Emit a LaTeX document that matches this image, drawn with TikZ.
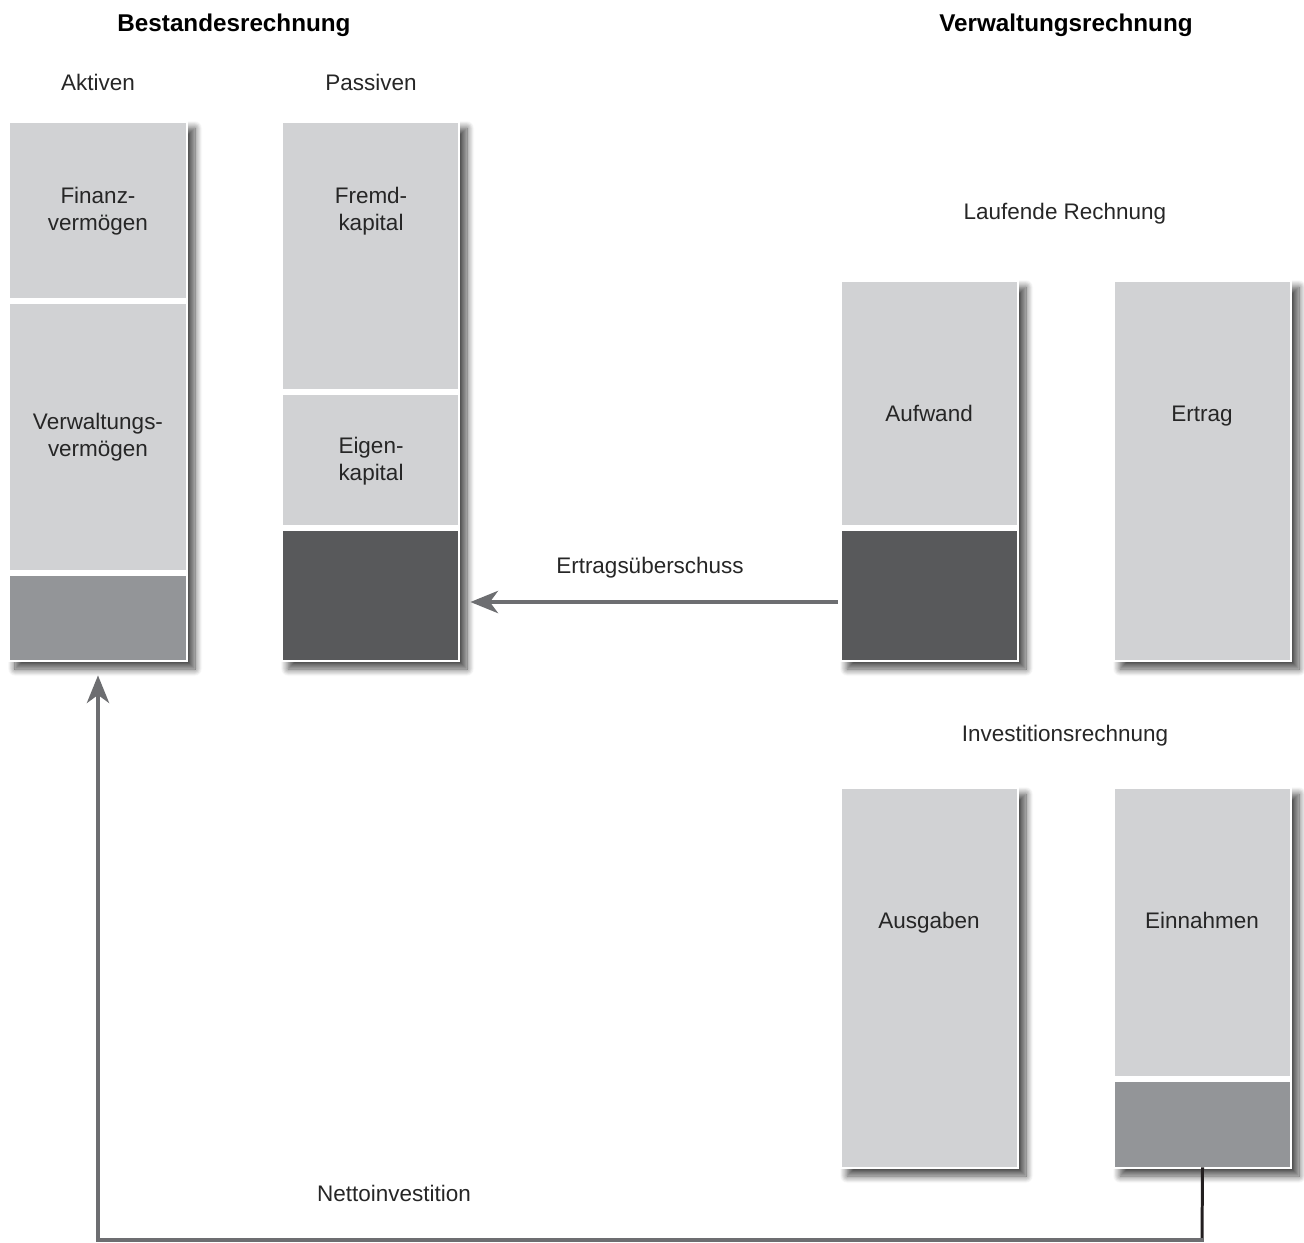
\documentclass[tikz,border=0pt]{standalone}
\usepackage{fontspec}
\setmainfont{Liberation Sans}
\usetikzlibrary{arrows.meta,fit,shadows.blur}
\definecolor{boxlight}{HTML}{D1D2D4}
\definecolor{boxdark}{HTML}{58595B}
\definecolor{boxmid}{HTML}{939598}
\definecolor{arrgray}{HTML}{6D6E71}
\definecolor{linedark}{HTML}{231F20}
\tikzset{
  frame/.style={fill=white,inner sep=0pt,blur shadow={shadow xshift=0.14cm,shadow yshift=-0.14cm,shadow blur radius=0.14cm,shadow blur steps=10,shadow opacity=70}},
  seg/.style={inner sep=0pt},
  txt/.style={align=center,font=\fontsize{12.8}{15.5}\selectfont,text=black!85},
  lbl/.style={txt,text height=0.9em,text depth=0.2em},
  ttl/.style={font=\fontsize{13.8}{16}\selectfont\bfseries},
  flow/.style={line width=2.8pt,arrgray,-{Stealth[length=5.5mm,width=4.4mm,inset=1.6mm]}}
}

\begin{document}
\begin{tikzpicture}[x=0.02cm,y=-0.02cm]
\useasboundingbox (0,0) rectangle (1304,1242);
% headings
\node[ttl] (tBest) at (234,25) {Bestandesrechnung};
\node[ttl] (tVerw) at (1066,25) {Verwaltungsrechnung};
\node[lbl] (hAkt) at (98,84) {Aktiven};
\node[lbl] (hPas) at (371,84) {Passiven};
\node[lbl] (hLfd) at (1065,213) {Laufende Rechnung};
\node[lbl] (hInv) at (1065,735) {Investitionsrechnung};
% frames with shadow
\node[frame,fit={(8,121)(188,662)}] (fAkt) {};
\node[frame,fit={(281,121)(460,662)}] (fPas) {};
\node[frame,fit={(840,280)(1019,662)}] (fAuf) {};
\node[frame,fit={(1113,280)(1292,662)}] (fErt) {};
\node[frame,fit={(840,787)(1019,1169)}] (fAus) {};
\node[frame,fit={(1113,787)(1292,1169)}] (fEin) {};
% segments
\node[seg,fill=boxlight,fit={(10,123)(186,298)}] (sFin) {};
\node[seg,fill=boxlight,fit={(10,304)(186,570)}] (sVer) {};
\node[seg,fill=boxmid,fit={(10,576)(186,660)}] (sAktM) {};
\node[seg,fill=boxlight,fit={(283,123)(458,389)}] (sFre) {};
\node[seg,fill=boxlight,fit={(283,395)(458,525)}] (sEig) {};
\node[seg,fill=boxdark,fit={(283,531)(458,660)}] (sPasD) {};
\node[seg,fill=boxlight,fit={(842,282)(1017,525)}] (sAuf) {};
\node[seg,fill=boxdark,fit={(842,531)(1017,660)}] (sAufD) {};
\node[seg,fill=boxlight,fit={(1115,282)(1290,660)}] (sErt) {};
\node[seg,fill=boxlight,fit={(842,789)(1017,1167)}] (sAus) {};
\node[seg,fill=boxlight,fit={(1115,789)(1290,1076)}] (sEin) {};
\node[seg,fill=boxmid,fit={(1115,1082)(1290,1167)}] (sEinM) {};
% texts
\node[txt] (tFin) at (98,211) {Finanz-\\vermögen};
\node[txt] (tVer) at (98,437) {Verwaltungs-\\vermögen};
\node[txt] (tFre) at (371,211) {Fremd-\\kapital};
\node[txt] (tEig) at (371,461) {Eigen-\\kapital};
\node[lbl] (tAuf) at (929,415) {Aufwand};
\node[lbl] (tErt) at (1202,415) {Ertrag};
\node[lbl] (tAus) at (929,922) {Ausgaben};
\node[lbl] (tEin) at (1202,922) {Einnahmen};
% flows
\node[lbl] (lUeb) at (650,567) {Ertragsüberschuss};
\draw[flow,shorten >=0.2cm] ([yshift=-0.13cm,xshift=-0.08cm]sAufD.west) -- ([yshift=-0.13cm]fPas.east |- sAufD.west);
\node[lbl] (lNet) at (394,1195) {Nettoinvestition};
\coordinate (cNet) at (1202,1240);
\draw[linedark,line width=1.7pt] (sEinM.south) -- (cNet);
\draw[flow,shorten >=0.26cm] ([xshift=0.03cm]cNet) -| (fAkt.south);
\end{tikzpicture}
\end{document}
